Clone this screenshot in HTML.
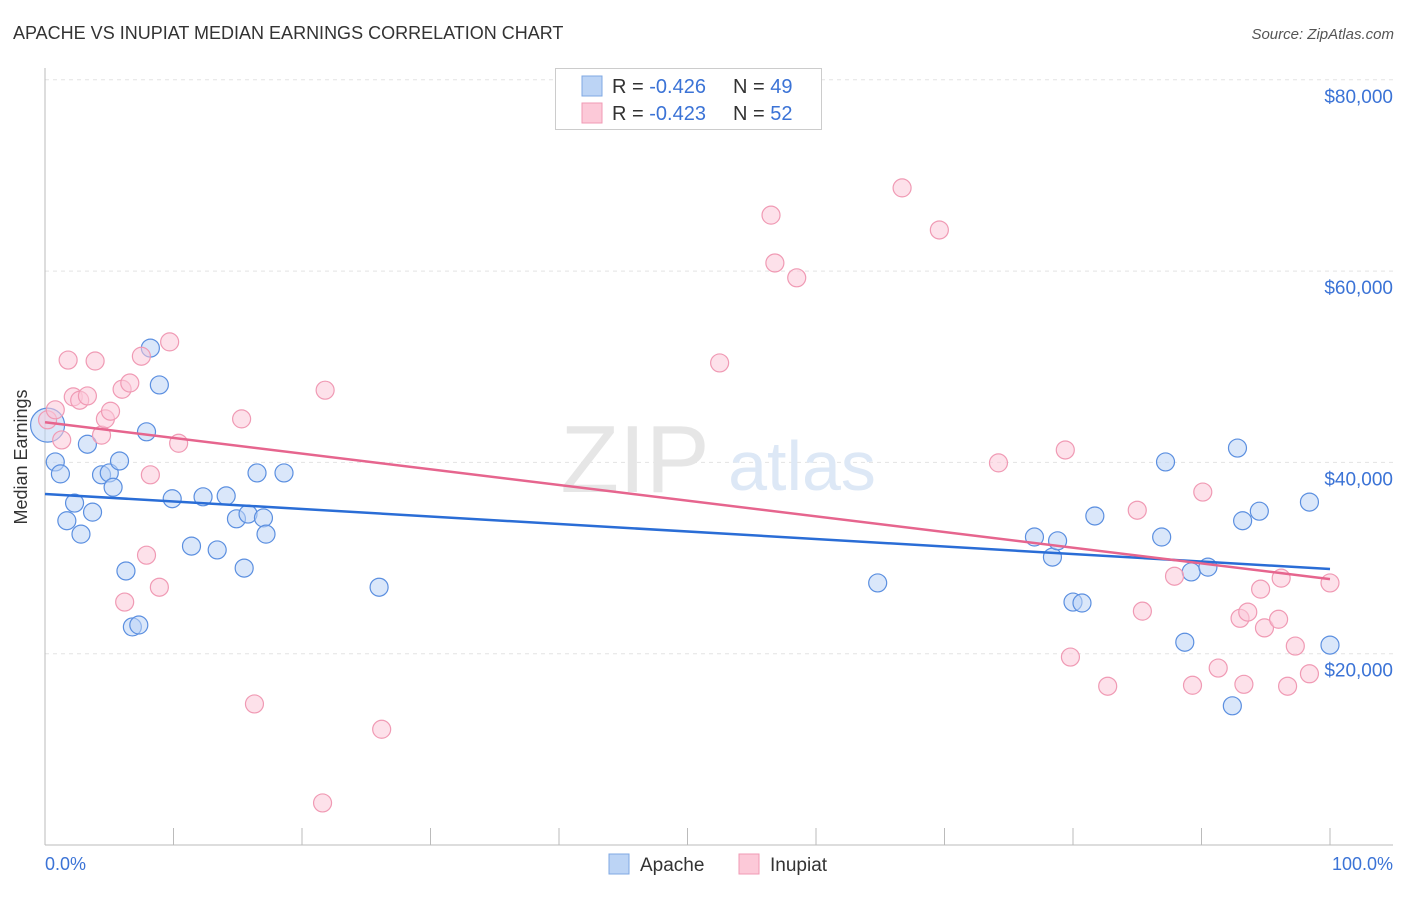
<!DOCTYPE html>
<html><head><meta charset="utf-8"><style>
body{margin:0;background:#fff;font-family:"Liberation Sans",sans-serif}
svg text{font-family:"Liberation Sans",sans-serif}
</style></head><body>
<svg width="1406" height="892" viewBox="0 0 1406 892" xmlns="http://www.w3.org/2000/svg">
<text x="13" y="39" font-size="18" fill="#333">APACHE VS INUPIAT MEDIAN EARNINGS CORRELATION CHART</text>
<text x="1394" y="39" font-size="15" fill="#555" font-style="italic" text-anchor="end">Source: ZipAtlas.com</text>
<g id="grid"></g>
<g><text x="635" y="492" font-size="96" fill="#e6e6e6" font-family="Liberation Serif" text-anchor="middle">ZIP</text><text x="802" y="490" font-size="70" fill="#dde8f6" text-anchor="middle">atlas</text></g>
<line x1="45" y1="68" x2="45" y2="845" stroke="#bbb"/>
<line x1="45" y1="845" x2="1393" y2="845" stroke="#bbb"/>
<g id="ticks"></g>
<text x="27" y="457" font-size="18" fill="#333" text-anchor="middle" transform="rotate(-90 27 457)">Median Earnings</text>
<text x="45" y="870" font-size="18" fill="#3b73d6">0.0%</text>
<text x="1393" y="870" font-size="18" fill="#3b73d6" text-anchor="end">100.0%</text>
<g id="pts"></g>
<g id="trend"></g>
<g>
<rect x="555.5" y="68.5" width="266" height="61" fill="#fff" stroke="#ccc"/>
<rect x="582" y="76" width="20" height="20" fill="#bcd4f5" stroke="#7fa8e3"/>
<rect x="582" y="103" width="20" height="20" fill="#fcc9d8" stroke="#f09ab4"/>
<text x="612" y="93" font-size="20" fill="#333">R = <tspan fill="#3b73d6">-0.426</tspan><tspan x="733">N = </tspan><tspan fill="#3b73d6">49</tspan></text>
<text x="612" y="120" font-size="20" fill="#333">R = <tspan fill="#3b73d6">-0.423</tspan><tspan x="733">N = </tspan><tspan fill="#3b73d6">52</tspan></text>
</g>
<g><rect x="609" y="854" width="20" height="20" fill="#bcd4f5" stroke="#7fa8e3"/><text x="640" y="871" font-size="19" fill="#333">Apache</text></g>
<g><rect x="739" y="854" width="20" height="20" fill="#fcc9d8" stroke="#f09ab4"/><text x="770" y="871" font-size="19" fill="#333">Inupiat</text></g>
</svg>
<script>
const yTicks=[20000,40000,60000,80000];
const yTickLabels=["$20,000","$40,000","$60,000","$80,000"];
const xTicks=[0,10,20,30,40,50,60,70,80,90,100];
const apacheX=[0.2,0.8,1.2,1.7,2.3,2.8,3.3,3.7,4.4,5.0,5.3,5.8,6.3,6.8,7.3,7.9,8.2,8.9,9.9,11.4,12.3,13.4,14.1,14.9,15.5,15.8,16.5,17.0,17.2,18.6,26.0,64.8,77.0,78.4,78.8,80.0,80.7,81.7,86.9,87.2,88.7,89.2,90.5,92.4,92.8,93.2,94.5,98.4,100];
const apacheY=[43900,40050,38800,33900,35750,32500,41900,34800,38700,38900,37400,40150,28650,22800,23000,43200,51950,48100,36200,31250,36400,30850,36500,34100,28950,34600,38900,34200,32500,38900,26950,27400,32200,30100,31800,25400,25300,34400,32200,40050,21200,28550,29050,14550,41500,33900,34900,35850,20900];
const inupiatX=[0.2,0.8,1.3,1.8,2.2,2.7,3.3,3.9,4.4,4.7,5.1,6.0,6.2,6.6,7.5,7.9,8.2,8.9,9.7,10.4,15.3,16.3,21.6,21.8,26.2,52.5,56.5,56.8,58.5,66.7,69.6,74.2,79.4,79.8,82.7,85.0,85.4,87.9,89.3,90.1,91.3,93.0,93.3,93.6,94.6,94.9,96.0,96.2,96.7,97.3,98.4,100];
const inupiatY=[44450,45500,42350,50700,46850,46500,46950,50600,42850,44550,45350,47650,25400,48300,51100,30300,38700,26950,52600,42000,44550,14750,4400,47550,12100,50400,65850,60850,59300,68700,64300,39950,41300,19650,16600,35000,24450,28100,16700,36900,18500,23700,16800,24350,26750,22700,23600,27900,16600,20800,17900,27400];
const apacheTrend=[36700,28850];
const inupiatTrend=[44200,27800];
const NS="http://www.w3.org/2000/svg";
const sx=v=>45+v*12.85;
const sy=v=>845-v*191.3/20000;
function mk(t,a,p){const e=document.createElementNS(NS,t);for(const k in a)e.setAttribute(k,a[k]);p.appendChild(e);return e;}
const grid=document.getElementById('grid');
yTicks.forEach((v,i)=>{
 const l=mk('line',{x1:45,x2:1393,y1:sy(v),y2:sy(v),stroke:'#e3e3e3','stroke-dasharray':'4 4'},grid);
 
 
 const t=mk('text',{x:1393,y:sy(v)+23,'font-size':19,fill:'#3b73d6','text-anchor':'end'},grid);
 t.textContent=yTickLabels[i];
 
 
});
const tk=document.getElementById('ticks');
xTicks.forEach(v=>{
 const l=mk('line',{x1:sx(v),x2:sx(v),y1:828,y2:845,stroke:'#bbb'},tk);
 
 
});
const pts=document.getElementById('pts');
function series(X,Y,fill,stroke,name){
 X.forEach((x,i)=>{
  const c=mk('circle',{cx:sx(x),cy:sy(Y[i]),r:(i===0&&name==='apache-point')?17:9,fill:fill,'fill-opacity':0.55,stroke:stroke,'stroke-width':1.2},pts);
  
  
 });
}
series(apacheX,apacheY,'#bcd4f5','#5b8fe0','apache-point');
series(inupiatX,inupiatY,'#fcc9d8','#f09ab4','inupiat-point');
const tr=document.getElementById('trend');
const a=mk('line',{x1:sx(0),y1:sy(apacheTrend[0]),x2:sx(100),y2:sy(apacheTrend[1]),stroke:'#2a6dd6','stroke-width':2.5},tr);


const b=mk('line',{x1:sx(0),y1:sy(inupiatTrend[0]),x2:sx(100),y2:sy(inupiatTrend[1]),stroke:'#e6658e','stroke-width':2.5},tr);


</script>
</body></html>
